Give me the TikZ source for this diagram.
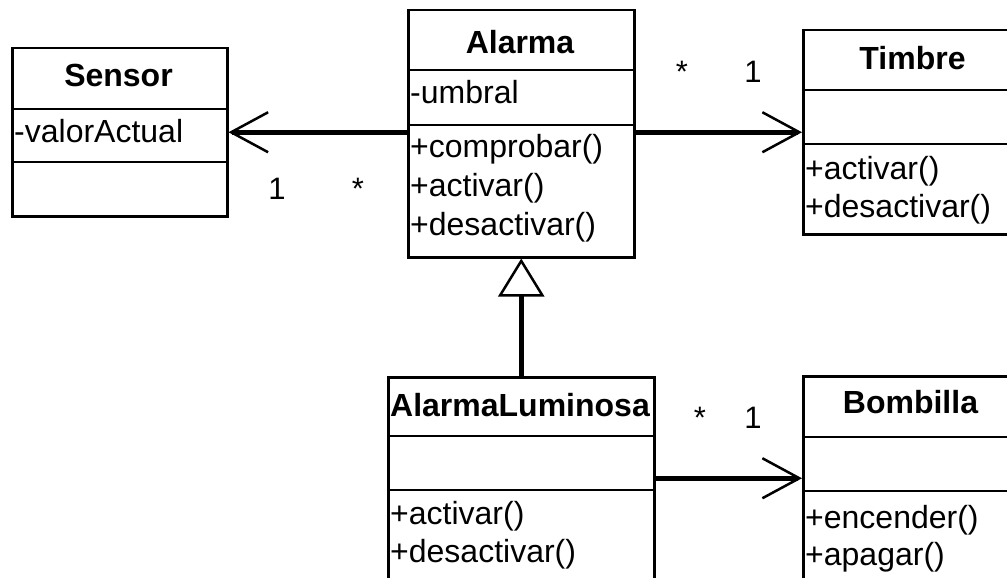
\documentclass[tikz,border=0pt]{standalone}
\usepackage{fontspec}
\setmainfont{Liberation Sans}
\usetikzlibrary{arrows.meta}
\begin{document}
\begin{tikzpicture}[x=1pt,y=-1pt,
  classbox/.style={draw, line width=2.5pt, rectangle, inner sep=0pt, anchor=north west},
  sep/.style={line width=2.5pt},
  title/.style={font=\fontsize{32}{38}\selectfont\bfseries, anchor=base, inner sep=0pt},
  member/.style={font=\fontsize{32}{38}\selectfont, anchor=base west, inner sep=0pt},
  mult/.style={font=\fontsize{31}{36}\selectfont, anchor=base, inner sep=0pt},
  assoc/.style={line width=4.5pt, -{Straight Barb[length=37pt, width=40pt, line width=2.5pt]}},
  gen/.style={line width=4.5pt, -{Triangle[open, fill=white, length=38pt, width=46pt, line width=2.5pt]}}]
\path[use as bounding box] (0,0) rectangle (1007,578);
\clip (0,0) rectangle (1007,578);

% Sensor
\node[classbox, minimum width=215pt, minimum height=168pt] (sensor) at (11,47) {};
\draw[sep] (sensor.west |- 0,109) -- (sensor.east |- 0,109);
\draw[sep] (sensor.west |- 0,162) -- (sensor.east |- 0,162);
\node[title] (sensorT) at (118.5,87) {Sensor};
\node[member] (sensorA) at (14,142) {-valorActual};

% Alarma
\node[classbox, minimum width=226pt, minimum height=247pt] (alarma) at (407,9) {};
\draw[sep] (alarma.west |- 0,70) -- (alarma.east |- 0,70);
\draw[sep] (alarma.west |- 0,125) -- (alarma.east |- 0,125);
\node[title] (alarmaT) at (520,54) {Alarma};
\node[member] (alarmaA) at (410,103) {-umbral};
\node[member] (alarmaM1) at (410,157) {+comprobar()};
\node[member] (alarmaM2) at (410,196) {+activar()};
\node[member] (alarmaM3) at (410,235) {+desactivar()};

% Timbre
\node[classbox, minimum width=221pt, minimum height=204pt] (timbre) at (802,29) {};
\draw[sep] (timbre.west |- 0,90) -- (timbre.east |- 0,90);
\draw[sep] (timbre.west |- 0,144) -- (timbre.east |- 0,144);
\node[title] (timbreT) at (912.5,70) {Timbre};
\node[member] (timbreM1) at (805,179) {+activar()};
\node[member] (timbreM2) at (805,217) {+desactivar()};

% AlarmaLuminosa
\node[classbox, minimum width=266pt, minimum height=214pt] (al) at (387,376) {};
\draw[sep] (al.west |- 0,436) -- (al.east |- 0,436);
\draw[sep] (al.west |- 0,490) -- (al.east |- 0,490);
\node[title] (alT) at (520,416) {AlarmaLuminosa};
\node[member] (alM1) at (390,524) {+activar()};
\node[member] (alM2) at (390,562) {+desactivar()};

% Bombilla
\node[classbox, minimum width=217pt, minimum height=215pt] (bombilla) at (802,375) {};
\draw[sep] (bombilla.west |- 0,437) -- (bombilla.east |- 0,437);
\draw[sep] (bombilla.west |- 0,491) -- (bombilla.east |- 0,491);
\node[title] (bombillaT) at (910.5,413) {Bombilla};
\node[member] (bombillaM1) at (805,528) {+encender()};
\node[member] (bombillaM2) at (805,565) {+apagar()};

% connectors
\draw[assoc] ([yshift=1.5pt]alarma.west) -- ([yshift=1.5pt]alarma.west -| sensor.east);
\draw[assoc] ([yshift=1.5pt]alarma.east) -- ([yshift=1.5pt]alarma.east -| timbre.west);
\draw[assoc] ([yshift=6pt]al.east) -- ([yshift=6pt]al.east -| bombilla.west);
\draw[gen] (al.north) -- (alarma.south);

% multiplicities
\node[mult] (m1) at (277,199) {1};
\node[mult] (m2) at (358,199) {*};
\node[mult] (m3) at (682,82) {*};
\node[mult] (m4) at (753,82) {1};
\node[mult] (m5) at (700,428) {*};
\node[mult] (m6) at (753,428) {1};
\end{tikzpicture}
\end{document}
